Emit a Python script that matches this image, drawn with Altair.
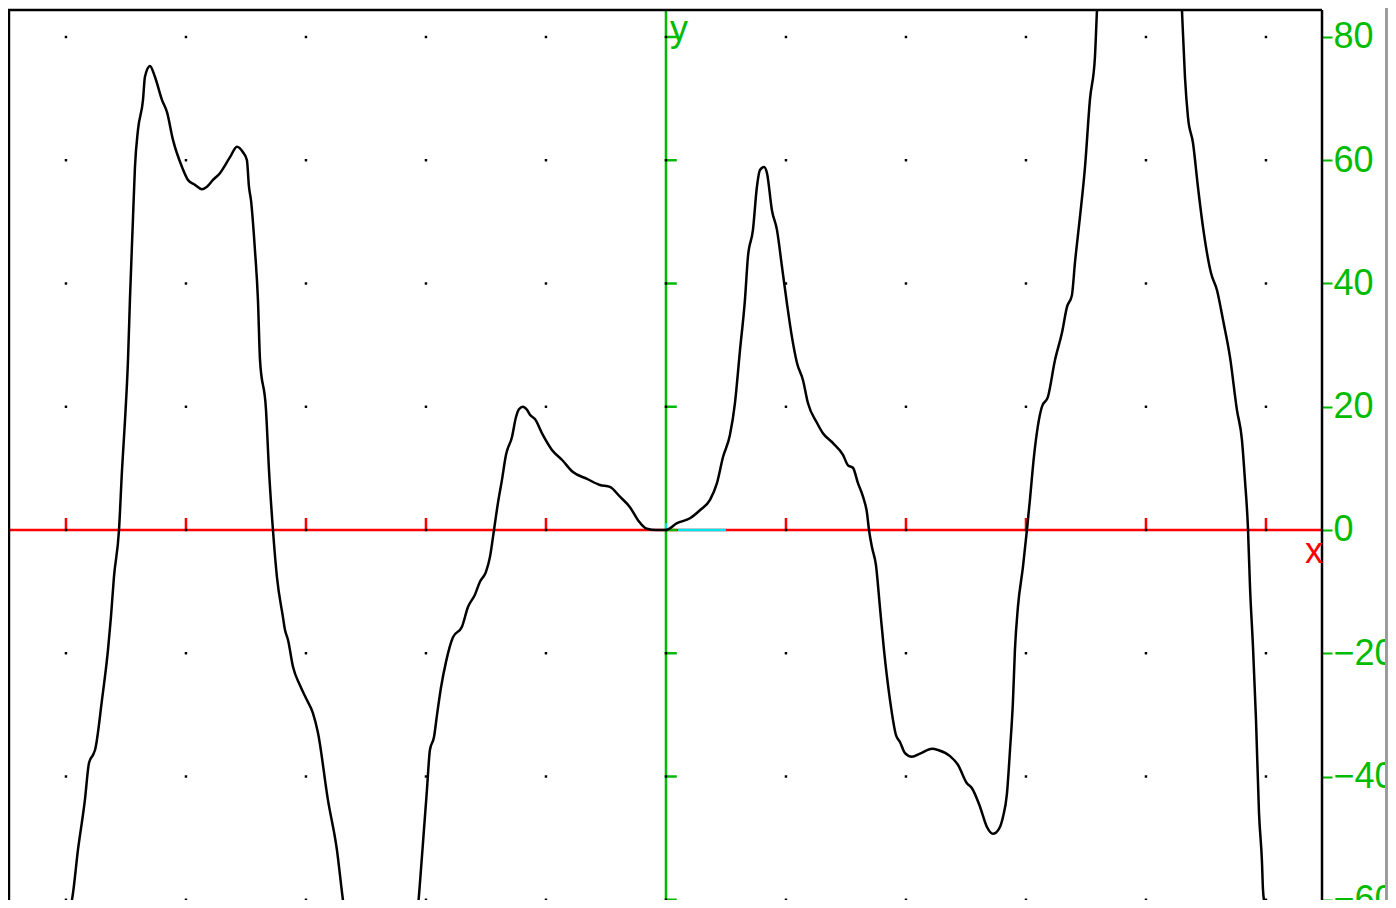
import altair as alt
import pandas as pd

# ---- data (in data units) ----
curve_x = [
    -5.017, -4.967, -4.95, -4.9, -4.842, -4.808, -4.775, -4.758, -4.7, -4.65,
    -4.625, -4.6, -4.558, -4.533, -4.508, -4.483, -4.467, -4.442, -4.425, -4.4,
    -4.358, -4.342, -4.3, -4.258, -4.2, -4.158, -4.108, -4.033, -3.983, -3.925,
    -3.867, -3.825, -3.775, -3.717, -3.633, -3.575, -3.525, -3.492, -3.475, -3.458,
    -3.425, -3.4, -3.383, -3.333, -3.308, -3.275, -3.242, -3.192, -3.175, -3.15,
    -3.108, -3.05, -2.992, -2.942, -2.9, -2.817, -2.742, -2.692, -2.683, -2.633,
    -2.383, -2.133,
    -2.067, -2.042, -2.017, -1.992, -1.967, -1.933, -1.908, -1.875, -1.833, -1.775,
    -1.7, -1.65, -1.592, -1.55, -1.5, -1.467, -1.433, -1.4, -1.367, -1.333,
    -1.283, -1.25, -1.225, -1.192, -1.158, -1.133, -1.092, -1.025, -0.95, -0.867,
    -0.775, -0.658, -0.55, -0.467, -0.383, -0.3, -0.233, -0.158, -0.083, 0.0,
    0.092, 0.2, 0.283, 0.367, 0.425, 0.475, 0.533, 0.575, 0.617, 0.658,
    0.683, 0.725, 0.758, 0.783, 0.817, 0.842, 0.883, 0.925, 0.967, 1.008,
    1.05, 1.092, 1.142, 1.183, 1.258, 1.308, 1.392, 1.475, 1.517, 1.558,
    1.6, 1.642, 1.675, 1.692, 1.717, 1.75, 1.783, 1.817, 1.867, 1.917,
    1.95, 1.992, 2.05, 2.117, 2.217, 2.267, 2.367, 2.433, 2.508, 2.55,
    2.617, 2.675, 2.725, 2.775, 2.808, 2.842, 2.867, 2.892, 2.908, 2.933,
    2.975, 3.008, 3.033, 3.067, 3.133, 3.183, 3.242, 3.3, 3.342, 3.383,
    3.408, 3.45, 3.492, 3.533, 3.575, 3.592, 3.617, 3.95, 4.283, 4.3,
    4.325, 4.35, 4.392, 4.433, 4.475, 4.542, 4.592, 4.642, 4.7, 4.758,
    4.8, 4.825, 4.85, 4.867, 4.892, 4.917, 4.942, 4.967, 4.975, 4.992,
    5.017,
]
curve_y = [
    -64.9, -61.3, -60.0, -51.9, -43.8, -37.8, -36.5, -35.7, -27.6, -19.5,
    -14.1, -7.6, 0.0, 9.7, 17.8, 27.6, 37.3, 50.3, 58.9, 64.9,
    69.8, 73.5, 75.3, 73.5, 69.8, 67.8, 63.3, 58.9, 56.8, 56.0,
    55.3, 55.7, 56.8, 57.9, 60.5, 62.2, 61.3, 60.0, 55.7, 53.5,
    45.4, 37.3, 27.6, 19.5, 9.7, 0.0, -7.6, -14.1, -16.2, -17.8,
    -22.2, -25.2, -27.6, -29.7, -32.9, -43.8, -51.9, -60.0, -61.3, -69.8,
    -77.9, -69.8,
    -61.3, -55.2, -48.7, -42.2, -35.7, -33.6, -30.0, -25.6, -21.4, -17.4,
    -15.7, -12.5, -10.5, -8.4, -6.8, -4.4, 0.0, 4.4, 8.1, 12.2,
    15.1, 18.3, 19.6, 20.0, 19.5, 18.7, 18.0, 15.4, 13.0, 11.4,
    9.4, 8.3, 7.3, 7.0, 5.4, 3.7, 1.6, 0.2, 0.0, 0.0,
    1.1, 1.9, 3.2, 4.9, 7.6, 11.8, 15.4, 20.6, 29.2, 37.3,
    44.3, 48.7, 55.7, 58.4, 58.9, 57.9, 51.9, 48.7, 42.7, 36.8,
    31.3, 27.1, 24.3, 20.6, 17.4, 15.7, 14.1, 12.2, 10.5, 10.1,
    7.6, 5.4, 2.8, 0.0, -2.8, -5.7, -12.5, -19.5, -27.6, -33.3,
    -34.4, -36.2, -36.8, -36.3, -35.5, -35.7, -36.7, -38.1, -41.1, -41.9,
    -44.9, -48.2, -49.3, -48.5, -46.6, -42.7, -35.7, -27.6, -19.5, -12.5,
    -6.0, 0.0, 4.9, 12.0, 20.0, 21.6, 27.6, 32.0, 36.2, 38.1,
    43.3, 50.8, 58.9, 69.8, 76.8, 84.4, 92.5, 110.3, 92.5, 84.4,
    73.5, 67.0, 62.8, 55.7, 49.2, 41.7, 38.9, 34.1, 28.1, 19.5,
    14.6, 8.1, 0.3, -9.2, -19.0, -30.8, -45.9, -54.0, -58.3, -61.3,
    -66.5,
]

grid_x = [-5, -4, -3, -2, -1, 0, 1, 2, 3, 4, 5]
grid_y = [-60, -40, -20, 0, 20, 40, 60, 80]
x_tick_values = [-5, -4, -3, -2, -1, 1, 2, 3, 4, 5]
y_tick_values = [-60, -40, -20, 0, 20, 40, 60, 80]
x_domain = [-5.483, 5.467]
y_domain = [-60.04, 84.38]

GREEN = "#00BB00"
RED = "#FF0000"
CYAN = "#00E5EE"
FONT = "Liberation Sans"

xs = alt.Scale(domain=x_domain, nice=False, zero=False)
ys = alt.Scale(domain=y_domain, nice=False, zero=False)

y_axis = alt.Axis(
    orient="right", values=y_tick_values, grid=False, domain=False, title=None,
    tickColor=GREEN, tickSize=10, tickWidth=2, labelColor=GREEN,
    labelFont=FONT, labelFontSize=36, labelPadding=1, labelOverlap=False,
)


def X(field):
    return alt.X(field, type="quantitative", scale=xs, axis=None)


def Y(field):
    return alt.Y(field, type="quantitative", scale=ys, axis=y_axis)


curve_df = pd.DataFrame({"x": curve_x, "y": curve_y, "i": list(range(len(curve_x)))})
dots_df = pd.DataFrame([(gx, gy) for gx in grid_x for gy in grid_y], columns=["x", "y"])
xaxis_df = pd.DataFrame({"x": [x_domain[0]], "x2": [x_domain[1]], "y": [0]})
yaxis_df = pd.DataFrame({"x": [0], "y": [y_domain[0]], "y2": [y_domain[1]]})
xt_df = pd.DataFrame({"x": x_tick_values, "y": [0] * len(x_tick_values),
                      "y2": [1.95] * len(x_tick_values)})
yt_df = pd.DataFrame({"x": [0] * len(y_tick_values), "x2": [0.09] * len(y_tick_values),
                      "y": y_tick_values})
cyan_h_df = pd.DataFrame({"x": [0.1], "x2": [0.5], "y": [0]})
cyan_v_df = pd.DataFrame({"x": [0], "y": [0], "y2": [1.1]})
xlabel_df = pd.DataFrame({"x": [5.475], "y": [-5.35], "t": ["x"]})
ylabel_df = pd.DataFrame({"x": [0.033], "y": [79.35], "t": ["y"]})
scroll_df = pd.DataFrame({"x": [5.992], "x2": [6.3], "y": [-70], "y2": [90]})
# frame: left, right and top edges (the bottom runs off the window)
frame_v_df = pd.DataFrame({"x": [-5.475, x_domain[1]], "y": [y_domain[0], y_domain[0]],
                           "y2": [y_domain[1], y_domain[1]]})
frame_h_df = pd.DataFrame({"x": [x_domain[0]], "x2": [x_domain[1]], "y": [y_domain[1]]})

x_axis_line = alt.Chart(xaxis_df).mark_rule(color=RED, strokeWidth=2.5).encode(
    x=X("x"), x2="x2", y=Y("y"))
y_axis_line = alt.Chart(yaxis_df).mark_rule(color=GREEN, strokeWidth=2.5).encode(
    x=X("x"), y=Y("y"), y2="y2")
x_ticks = alt.Chart(xt_df).mark_rule(color=RED, strokeWidth=2.5).encode(
    x=X("x"), y=Y("y"), y2="y2")
y_ticks = alt.Chart(yt_df).mark_rule(color=GREEN, strokeWidth=2.5).encode(
    x=X("x"), x2="x2", y=Y("y"))
cyan_h = alt.Chart(cyan_h_df).mark_rule(color=CYAN, strokeWidth=2.5).encode(
    x=X("x"), x2="x2", y=Y("y"))
cyan_v = alt.Chart(cyan_v_df).mark_rule(color=CYAN, strokeWidth=2).encode(
    x=X("x"), y=Y("y"), y2="y2")
dots = alt.Chart(dots_df).mark_square(color="black", size=6, opacity=1).encode(
    x=X("x"), y=Y("y"))
curve = alt.Chart(curve_df).mark_line(
    color="black", strokeWidth=2.5, clip=True, interpolate="monotone"
).encode(x=X("x"), y=Y("y"), order="i:Q")
x_label = alt.Chart(xlabel_df).mark_text(
    color=RED, font=FONT, fontSize=36, align="right", baseline="alphabetic"
).encode(x=X("x"), y=Y("y"), text="t")
y_label = alt.Chart(ylabel_df).mark_text(
    color=GREEN, font=FONT, fontSize=36, align="left", baseline="alphabetic"
).encode(x=X("x"), y=Y("y"), text="t")
frame_v = alt.Chart(frame_v_df).mark_rule(color="black", strokeWidth=2.5).encode(
    x=X("x"), y=Y("y"), y2="y2")
frame_h = alt.Chart(frame_h_df).mark_rule(color="black", strokeWidth=2.5).encode(
    x=X("x"), x2="x2", y=Y("y"))
scroll = alt.Chart(scroll_df).mark_rect(color="#9c9c9c", clip=False).encode(
    x=X("x"), x2="x2", y=Y("y"), y2="y2")

chart = alt.layer(
    x_axis_line, y_axis_line, x_ticks, y_ticks, cyan_h, cyan_v,
    dots, curve, frame_v, frame_h, x_label, y_label, scroll,
).properties(
    width=1314, height=890,
    autosize="none",
    padding={"left": 0, "top": 2, "right": 66, "bottom": 0},
    background="white",
).configure_view(stroke=None)

chart.save("out.html", embed_options={"renderer": "svg", "actions": False})
